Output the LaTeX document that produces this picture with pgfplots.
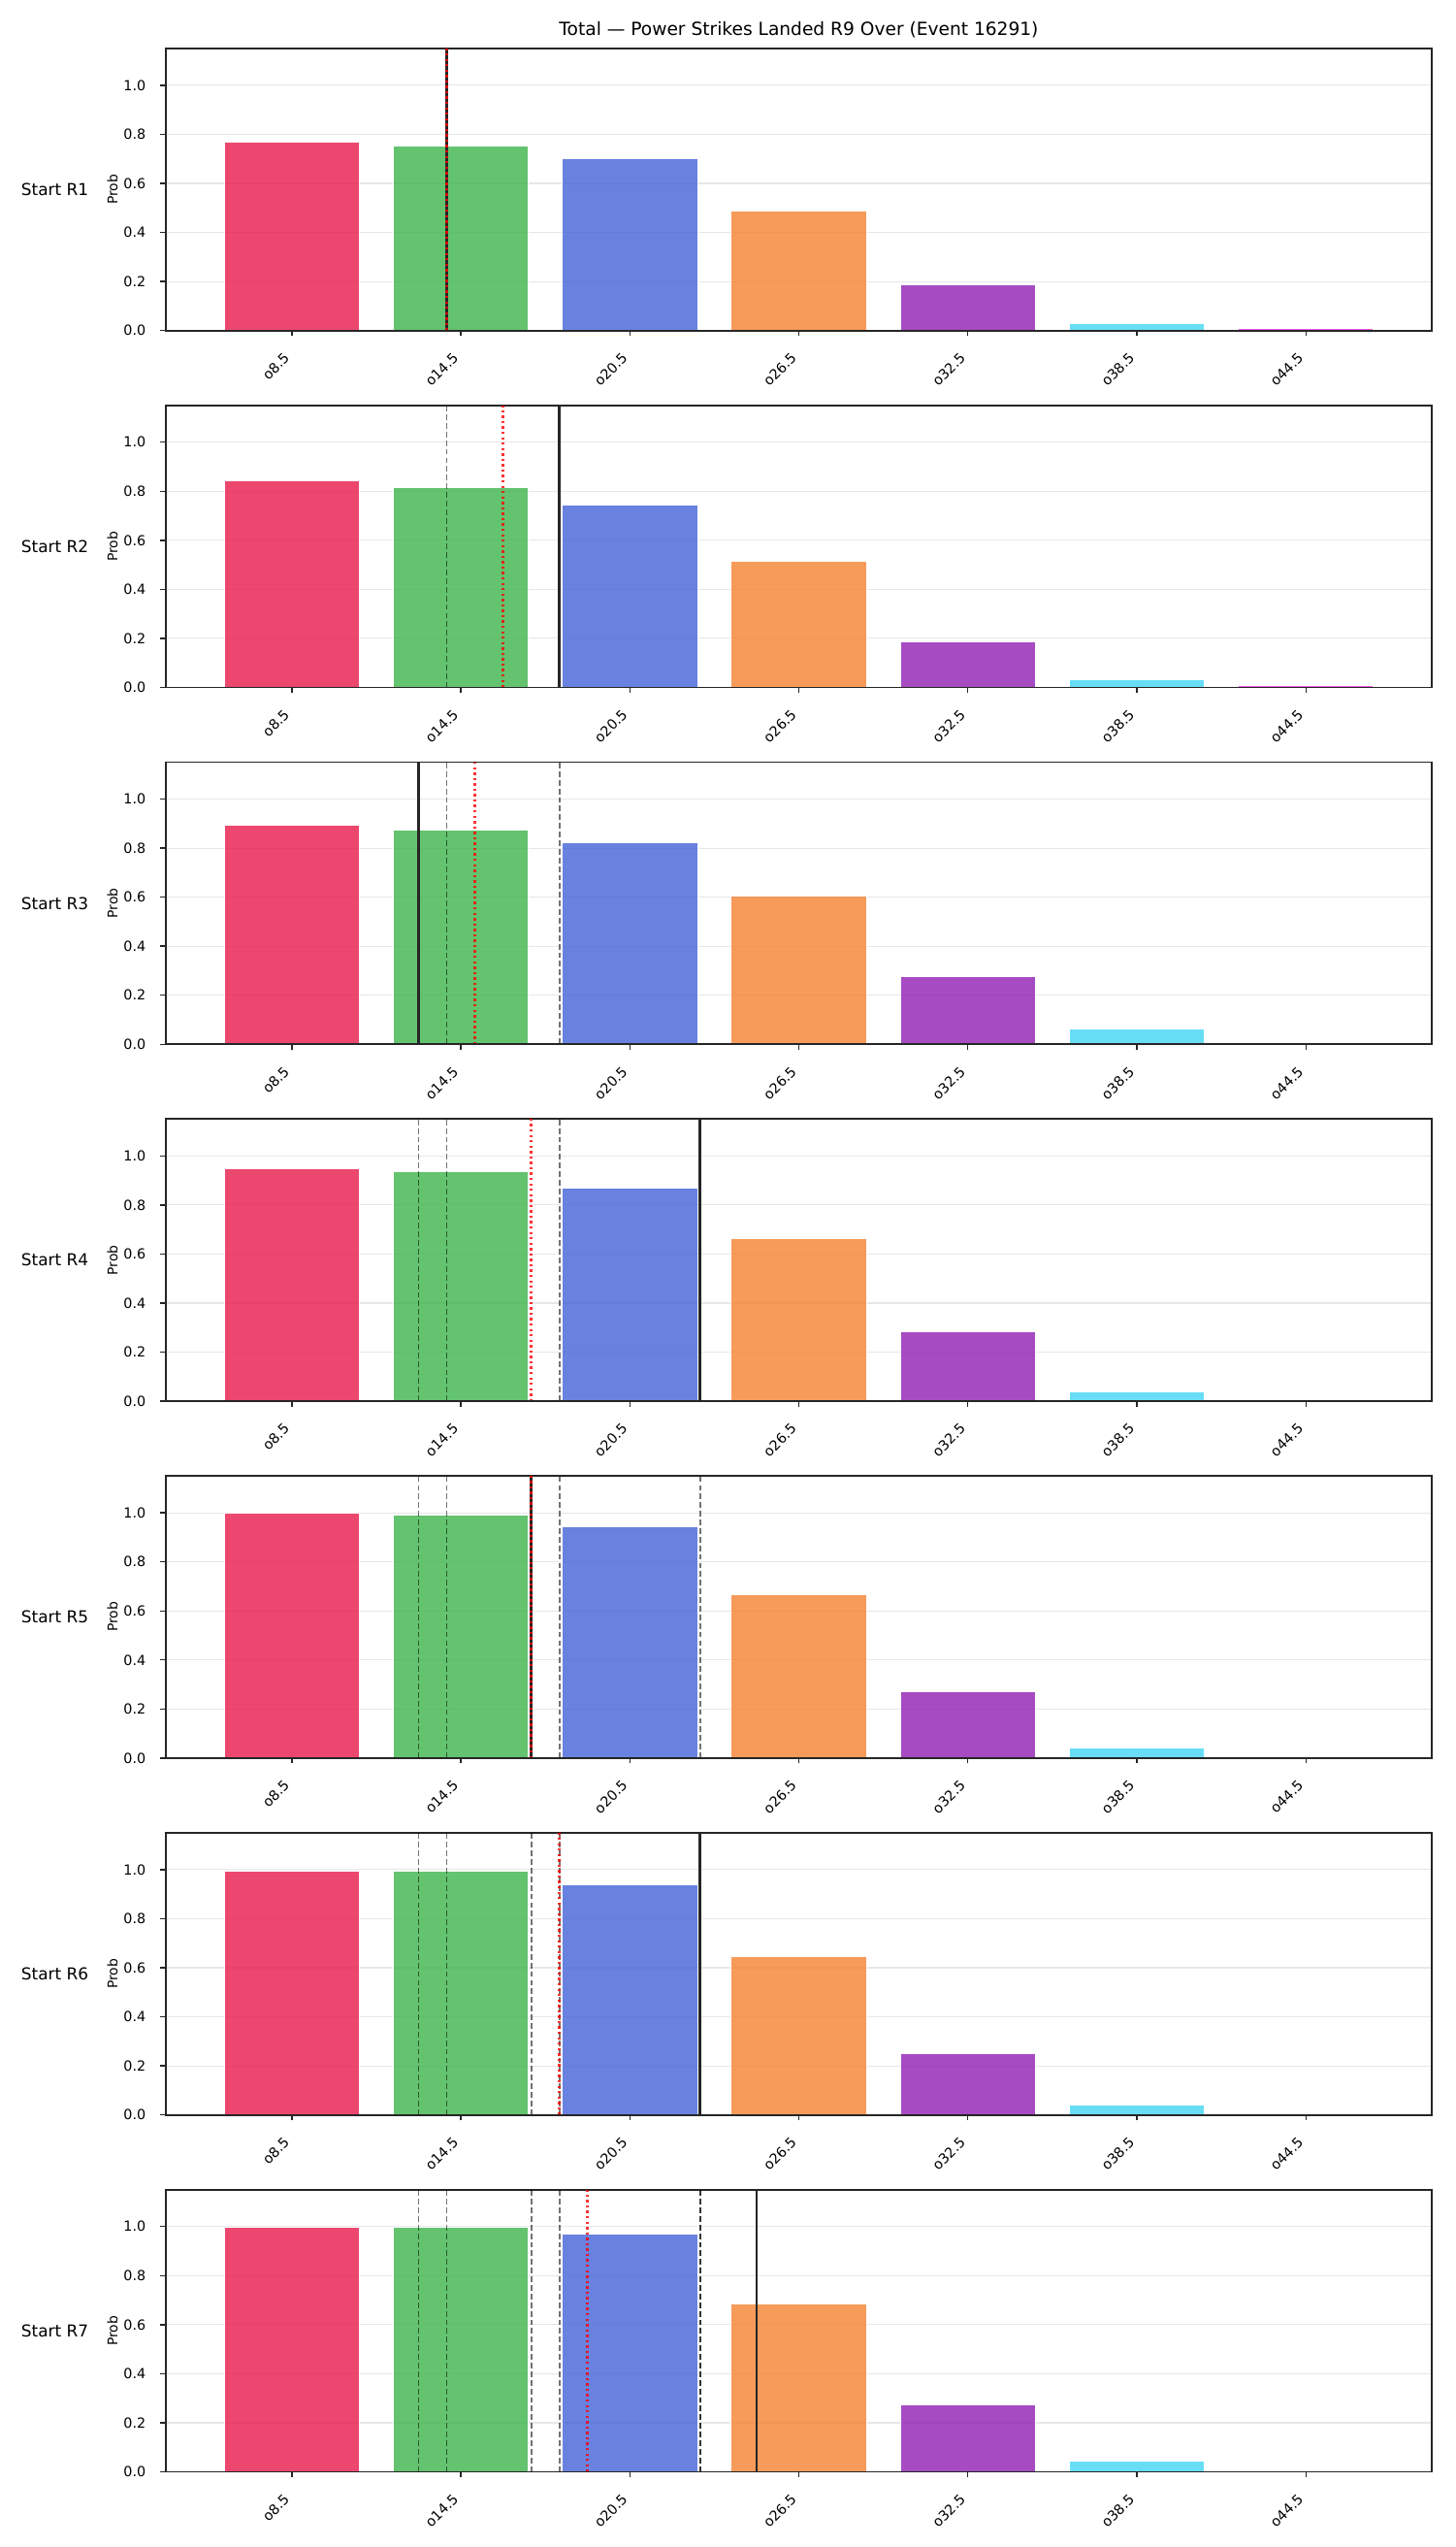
\documentclass[border=0pt]{standalone}
\usepackage{fontspec}
\setmainfont{DejaVu Sans}
\usepackage{pgfplots}
\pgfplotsset{compat=1.18}

% bar palette (drawn at 80% opacity)
\definecolor{cRed}{HTML}{E6194B}
\definecolor{cGreen}{HTML}{3CB44B}
\definecolor{cBlue}{HTML}{4363D8}
\definecolor{cOrange}{HTML}{F58231}
\definecolor{cPurple}{HTML}{911EB4}
\definecolor{cCyan}{HTML}{42D4F4}
\definecolor{cMagenta}{HTML}{F032E6}
\definecolor{spine}{HTML}{262626}
\definecolor{gridc}{HTML}{E7E7E7}

\pgfplotsset{
  panel/.style={
    scale only axis, width=939.6pt, height=209.3pt,
    anchor=north west,
    xmin=-0.745, xmax=6.745, ymin=0, ymax=1.15,
    xtick={0,1,2,3,4,5,6},
    xticklabels={o8.5,o14.5,o20.5,o26.5,o32.5,o38.5,o44.5},
    ytick={0,0.2,0.4,0.6,0.8,1.0},
    /pgf/number format/fixed,
    /pgf/number format/fixed zerofill,
    /pgf/number format/precision=1,
    /pgf/number format/assume math mode=true,
    tick pos=left, tick align=outside, major tick length=4pt,
    tick style={draw=spine, line width=1pt},
    axis line style={draw=spine, line width=1.3pt},
    ymajorgrids, major grid style={draw=gridc, line width=0.8pt},
    yticklabel style={anchor=east, inner sep=0pt, xshift=-10.8pt,
      font=\fontsize{10.3}{12}\selectfont},
    xticklabel style={inner sep=0pt, xshift=-6.6pt, yshift=-11.5pt,
      rotate=45, anchor=north east, font=\fontsize{10.3}{12}\selectfont},
    clip mode=individual,
  },
  bar/.style={ybar, bar width=0.8, bar shift=0pt, draw=white,
    line width=0.6pt, fill opacity=0.8},
  hist/.style={black, draw opacity=0.55, line width=1.3pt,
    dash pattern=on 4.2pt off 2.2pt},
  cur/.style={black!85, line width=2pt},
  proj/.style={red, draw opacity=0.8, line width=1.9pt,
    dash pattern=on 1.7pt off 2.3pt},
}

% seven bars of one round
\newcommand{\bars}[7]{%
  \addplot[bar, fill=cRed]     coordinates {(0,#1)};
  \addplot[bar, fill=cGreen]   coordinates {(1,#2)};
  \addplot[bar, fill=cBlue]    coordinates {(2,#3)};
  \addplot[bar, fill=cOrange]  coordinates {(3,#4)};
  \addplot[bar, fill=cPurple]  coordinates {(4,#5)};
  \addplot[bar, fill=cCyan]    coordinates {(5,#6)};
  \addplot[bar, fill=cMagenta] coordinates {(6,#7)};
}
% vertical marker at a position on the category axis
\newcommand{\vmark}[2]{\addplot[#1] coordinates {(#2,0) (#2,1.15)};}

% row label, axis label and redrawn bottom spine
\newcommand{\decor}[2]{%
  \node[font=\fontsize{12.2}{14}\selectfont] at ([xshift=-82.4pt]#1.west) {#2};
  \node[font=\fontsize{10}{12}\selectfont, rotate=90] at ([xshift=-39.6pt]#1.west) {Prob};
  \draw[draw=spine, line width=1.3pt] (#1.south west) -- (#1.south east);
}

\begin{document}
\begin{tikzpicture}
\useasboundingbox (0,0) rectangle (1080pt,1890pt);

\node[font=\fontsize{13.4}{16}\selectfont] at (592.9pt,1867.7pt)
  {Total — Power Strikes Landed R9 Over (Event 16291)};

% Start R1
\begin{axis}[panel, name=p1, at={(123.12pt,1854pt)}]
  \bars{0.767}{0.751}{0.700}{0.486}{0.185}{0.030}{0.007}
  \vmark{cur}{0.916667}
  \vmark{proj}{0.916667}
\end{axis}
\decor{p1}{Start R1}

% Start R2
\begin{axis}[panel, name=p2, at={(123.12pt,1589.18pt)}]
  \bars{0.843}{0.815}{0.744}{0.514}{0.185}{0.030}{0.007}
  \vmark{hist}{0.916667}
  \vmark{cur}{1.583333}
  \vmark{proj}{1.25}
\end{axis}
\decor{p2}{Start R2}

% Start R3
\begin{axis}[panel, name=p3, at={(123.12pt,1324.36pt)}]
  \bars{0.893}{0.873}{0.821}{0.604}{0.277}{0.063}{0.008}
  \vmark{hist}{0.916667}
  \vmark{hist}{1.583333}
  \vmark{cur}{0.75}
  \vmark{proj}{1.083333}
\end{axis}
\decor{p3}{Start R3}

% Start R4
\begin{axis}[panel, name=p4, at={(123.12pt,1059.54pt)}]
  \bars{0.948}{0.936}{0.869}{0.663}{0.283}{0.037}{0.005}
  \vmark{hist}{0.916667}
  \vmark{hist}{1.583333}
  \vmark{hist}{0.75}
  \vmark{cur}{2.416667}
  \vmark{proj}{1.416667}
\end{axis}
\decor{p4}{Start R4}

% Start R5
\begin{axis}[panel, name=p5, at={(123.12pt,794.72pt)}]
  \bars{0.997}{0.989}{0.942}{0.668}{0.271}{0.040}{0.002}
  \vmark{hist}{0.916667}
  \vmark{hist}{1.583333}
  \vmark{hist}{0.75}
  \vmark{hist}{2.416667}
  \vmark{cur}{1.416667}
  \vmark{proj}{1.416667}
\end{axis}
\decor{p5}{Start R5}

% Start R6
\begin{axis}[panel, name=p6, at={(123.12pt,529.9pt)}]
  \bars{0.996}{0.996}{0.940}{0.647}{0.252}{0.041}{0.002}
  \vmark{hist}{0.916667}
  \vmark{hist}{1.583333}
  \vmark{hist}{0.75}
  \vmark{hist}{2.416667}
  \vmark{hist}{1.416667}
  \vmark{cur}{2.416667}
  \vmark{proj}{1.583333}
\end{axis}
\decor{p6}{Start R6}

% Start R7
\begin{axis}[panel, name=p7, at={(123.12pt,265.08pt)}]
  \bars{0.996}{0.996}{0.968}{0.683}{0.272}{0.042}{0.005}
  \vmark{hist}{0.916667}
  \vmark{hist}{1.583333}
  \vmark{hist}{0.75}
  \vmark{hist}{2.416667}
  \vmark{hist}{1.416667}
  \vmark{hist}{2.416667}
  \vmark{cur}{2.75}
  \vmark{proj}{1.75}
\end{axis}
\decor{p7}{Start R7}
\end{tikzpicture}
\end{document}
